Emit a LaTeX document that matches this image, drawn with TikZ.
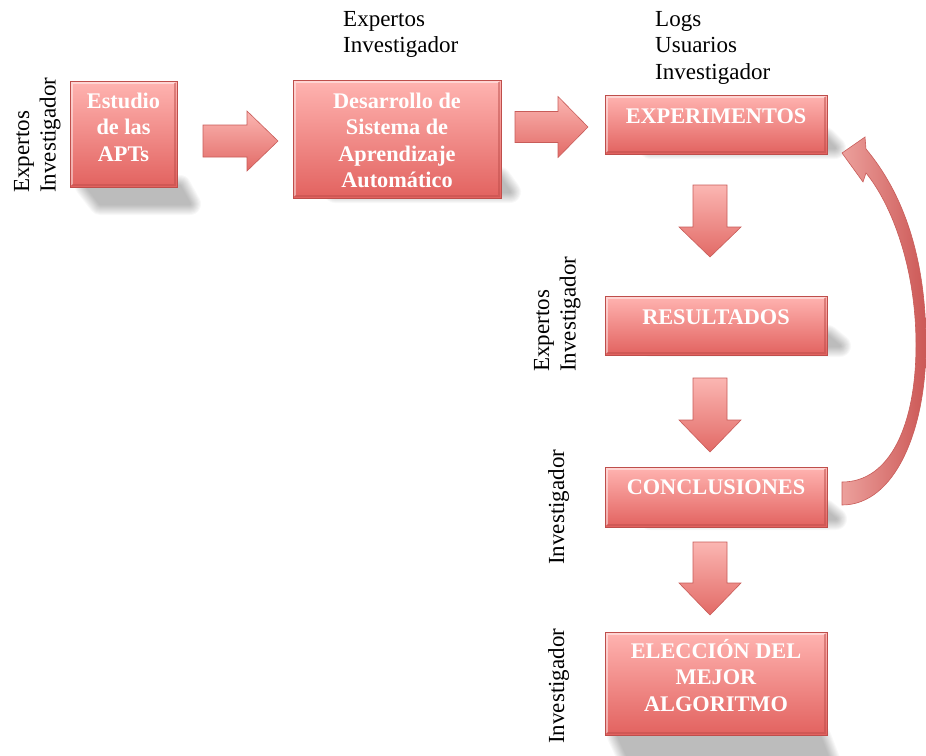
\documentclass[tikz,border=0pt]{standalone}
\usepackage{fontspec}
\setmainfont{Liberation Serif}
\usetikzlibrary{calc}

\definecolor{boxtop}{RGB}{255,180,177}
\definecolor{boxbot}{RGB}{226,98,95}
\definecolor{boxedge}{RGB}{190,78,75}
\definecolor{arrtop}{RGB}{251,182,178}
\definecolor{arrbot}{RGB}{226,106,102}
\definecolor{arredge}{RGB}{200,92,89}
\definecolor{curvel}{RGB}{236,160,156}
\definecolor{curver}{RGB}{204,88,86}

% multi-line cells whose baseline is the first line
\newcommand\tabc[1]{\begin{tabular}[t]{@{}c@{}}#1\end{tabular}}
\newcommand\tabl[1]{\begin{tabular}[t]{@{}l@{}}#1\end{tabular}}

\tikzset{
  stepbox/.style={draw=boxedge, line width=0.8pt, top color=boxtop, bottom color=boxbot,
                  anchor=north west, inner sep=0pt, outer sep=0pt},
  steptext/.style={text=white, font=\bfseries\fontsize{22.3}{26.5}\selectfont, anchor=base, inner sep=0pt},
  role/.style={font=\fontsize{23}{26.5}\selectfont, anchor=base west, inner sep=0pt},
  blockarrow/.style={draw=arredge, line width=0.6pt, top color=arrtop, bottom color=arrbot, line join=miter},
  shadowpoly/.style={draw=black, fill=black, line join=round},
}

% soft grey shadow: the polygon grown step by step, each step a faint layer
\newcommand\softshadow[1]{%
  \foreach \w in {2,4,...,22}{%
    \begin{scope}[transparency group, opacity=0.028]
      \path[shadowpoly, line width=\w pt] #1;
    \end{scope}}}

% light upper/left rim and dark lower/right rim of a box
\newcommand\bevel[1]{%
  \draw[white, opacity=0.45, line width=2pt] ([xshift=2pt,yshift=2pt]#1.south west) -- ([xshift=2pt,yshift=-2pt]#1.north west) -- ([xshift=-2pt,yshift=-2pt]#1.north east);
  \draw[boxedge, opacity=0.5, line width=2pt] ([xshift=2pt,yshift=2pt]#1.south west) -- ([xshift=-2pt,yshift=2pt]#1.south east) -- ([xshift=-2pt,yshift=-2pt]#1.north east);}

% block arrow pointing right: tail, tip, shaft half width, head half width, head length
\newcommand\rblock[5]{%
  \path[blockarrow] let \p1=(#1), \p2=(#2) in
    (\x1,\y1+#3) -- (\x2-#5,\y1+#3) -- (\x2-#5,\y1+#4) -- (\x2,\y2) -- (\x2-#5,\y1-#4) -- (\x2-#5,\y1-#3) -- (\x1,\y1-#3) -- cycle;}
% block arrow pointing down
\newcommand\dblock[5]{%
  \path[blockarrow] let \p1=(#1), \p2=(#2) in
    (\x1-#3,\y1) -- (\x1-#3,\y2+#5) -- (\x1-#4,\y2+#5) -- (\x2,\y2) -- (\x1+#4,\y2+#5) -- (\x1+#3,\y2+#5) -- (\x1+#3,\y1) -- cycle;}

\begin{document}
\begin{tikzpicture}[x=1pt, y=-1pt]
\useasboundingbox (0,0) rectangle (926,755);

% shadows behind the boxes
\softshadow{(86,186) -- (180,186) -- (190,204) -- (100,204) -- cycle}
\softshadow{(320,178) -- (500,178) -- (510,192) -- (335,192) -- cycle}
\softshadow{(640,138) -- (825,138) -- (835,148) -- (650,148) -- cycle}
\softshadow{(640,336) -- (828,336) -- (840,346) -- (650,346) -- cycle}
\softshadow{(640,510) -- (825,510) -- (836,519) -- (650,519) -- cycle}
\softshadow{(618,736) -- (820,736) -- (830,762) -- (630,762) -- cycle}

% process boxes
\node[stepbox, minimum width=107pt, minimum height=106pt] (estudio) at (70,81) {};
\node[stepbox, minimum width=208pt, minimum height=118pt] (desarrollo) at (293,80) {};
\node[stepbox, minimum width=222pt, minimum height=59pt] (experimentos) at (605,95) {};
\node[stepbox, minimum width=222pt, minimum height=59pt] (resultados) at (605,296) {};
\node[stepbox, minimum width=222pt, minimum height=60pt] (conclusiones) at (605,467) {};
\node[stepbox, minimum width=222pt, minimum height=103pt] (eleccion) at (605,632) {};

\bevel{estudio}
\bevel{desarrollo}
\bevel{experimentos}
\bevel{resultados}
\bevel{conclusiones}
\bevel{eleccion}

% box captions, first baseline 27 below the top edge
\node[steptext] (estudio-t) at ([yshift=-27pt]estudio.north) {\tabc{Estudio\\de las\\APTs}};
\node[steptext] (desarrollo-t) at ([yshift=-28pt]desarrollo.north) {\tabc{Desarrollo de\\Sistema de\\Aprendizaje\\Automático}};
\node[steptext] (experimentos-t) at ([yshift=-28pt]experimentos.north) {EXPERIMENTOS};
\node[steptext] (resultados-t) at ([yshift=-28pt]resultados.north) {RESULTADOS};
\node[steptext] (conclusiones-t) at ([yshift=-27pt]conclusiones.north) {CONCLUSIONES};
\node[steptext] (eleccion-t) at ([yshift=-26pt]eleccion.north) {\tabc{ELECCIÓN DEL\\MEJOR\\ALGORITMO}};

% ends of the block arrows
\coordinate (a1s) at (203,141);  \coordinate (a1e) at (278,141);
\coordinate (a2s) at (515,127);  \coordinate (a2e) at (588,127);
\coordinate (d1s) at (710,185);  \coordinate (d1e) at (710,257);
\coordinate (d2s) at (710,378);  \coordinate (d2e) at (710,452);
\coordinate (d3s) at (710,542);  \coordinate (d3e) at (710,615);

\rblock{a1s}{a1e}{16pt}{30pt}{31pt}
\rblock{a2s}{a2e}{15.5pt}{30.5pt}{30pt}
\dblock{d1s}{d1e}{17pt}{31pt}{30pt}
\dblock{d2s}{d2e}{17pt}{31pt}{32pt}
\dblock{d3s}{d3e}{17pt}{31pt}{32pt}

% curved return arrow from the conclusions back to the experiments
\coordinate (loop-tail) at (842,493.5);
\coordinate (loop-tip) at (842,153);
\path[draw=arredge, line width=0.6pt, left color=curvel, right color=curver, line join=miter]
  ([yshift=-11.5pt]loop-tail) .. controls (895,505) and (926,430) .. (926,345)
  .. controls (926,255) and (902,192) .. (866,149) -- (865,137) -- (loop-tip) -- (863,182) -- (866,173)
  .. controls (892,205) and (916,268) .. (916,345)
  .. controls (916,425) and (890,482) .. ([yshift=11.5pt]loop-tail) -- cycle;

% participants
\node[role] (who-desarrollo) at (343,26) {\tabl{Expertos\\Investigador}};
\node[role] (who-experimentos) at (655,26) {\tabl{Logs\\Usuarios\\Investigador}};
\node[role, rotate=90] (who-estudio) at (29,193) {\tabl{Expertos\\Investigador}};
\node[role, rotate=90] (who-resultados) at (549,372) {\tabl{Expertos\\Investigador}};
\node[role, rotate=90] (who-conclusiones) at (564,565) {Investigador};
\node[role, rotate=90] (who-eleccion) at (564,744) {Investigador};
\end{tikzpicture}
\end{document}
